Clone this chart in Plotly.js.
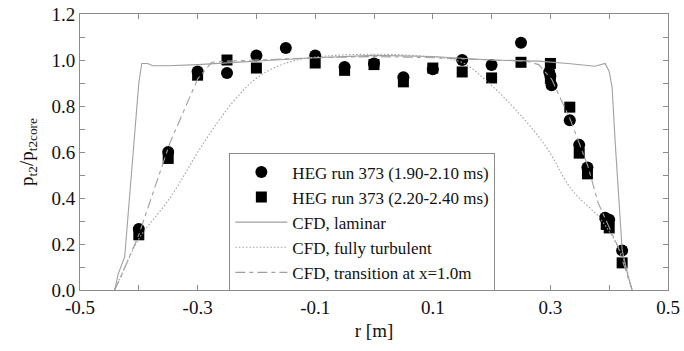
<!DOCTYPE html>
<html>
<head>
<meta charset="utf-8">
<script src="https://cdn.plot.ly/plotly-3.0.1.min.js"></script>
<style>html,body{margin:0;padding:0;background:#fff;}#chart{width:684px;height:351px;}</style>
</head>
<body>
<div id="chart"></div>
<script>
// Experimental data
const run1X = [-0.40, -0.35, -0.30, -0.25, -0.20, -0.15, -0.10, -0.05, 0.0, 0.05, 0.10, 0.15, 0.20, 0.25, 0.298, 0.30, 0.302, 0.333, 0.349, 0.363, 0.393, 0.40, 0.422];
const run1Y = [0.265, 0.60, 0.95, 0.943, 1.02, 1.052, 1.02, 0.97, 0.985, 0.925, 0.96, 1.0, 0.978, 1.075, 0.948, 0.93, 0.89, 0.738, 0.631, 0.533, 0.314, 0.305, 0.172];
const run2X = [-0.40, -0.35, -0.30, -0.25, -0.20, -0.10, -0.05, 0.0, 0.05, 0.10, 0.15, 0.20, 0.25, 0.30, 0.30, 0.333, 0.349, 0.363, 0.395, 0.40, 0.422];
const run2Y = [0.24, 0.572, 0.934, 1.0, 0.965, 0.987, 0.955, 0.98, 0.905, 0.965, 0.948, 0.922, 0.99, 0.985, 0.92, 0.795, 0.595, 0.505, 0.285, 0.27, 0.118];
// CFD curves
const lamX = [-0.441, -0.435, -0.424, -0.41, -0.40, -0.395, -0.385, -0.376, -0.35, -0.3, -0.2, -0.1, 0, 0.1, 0.2, 0.28, 0.33, 0.376, 0.393, 0.40, 0.405, 0.41, 0.422, 0.432, 0.439];
const lamY = [0, 0.07, 0.144, 0.6, 0.90, 0.985, 0.985, 0.975, 0.975, 0.98, 0.995, 1.01, 1.02, 1.015, 1.0, 0.995, 0.985, 0.973, 0.985, 0.95, 0.88, 0.65, 0.175, 0.06, 0];
const turbX = [-0.441, -0.42, -0.398, -0.347, -0.292, -0.24, -0.195, -0.139, -0.081, 0, 0.08, 0.149, 0.195, 0.24, 0.292, 0.336, 0.386, 0.42, 0.439];
const turbY = [0, 0.12, 0.23, 0.40, 0.63, 0.817, 0.93, 0.995, 1.017, 1.025, 1.017, 0.99, 0.90, 0.786, 0.625, 0.437, 0.306, 0.16, 0];
const transX = [-0.441, -0.43, -0.40, -0.347, -0.30, -0.276, -0.25, -0.2, -0.1, 0, 0.1, 0.2, 0.26, 0.28, 0.302, 0.334, 0.364, 0.381, 0.40, 0.415, 0.43, 0.439];
const transY = [0, 0.06, 0.24, 0.64, 0.917, 0.99, 0.995, 1.0, 1.01, 1.015, 1.01, 1.0, 0.995, 0.98, 0.917, 0.74, 0.537, 0.38, 0.27, 0.188, 0.07, 0];
// Axis tick labels (major) and minor tick step
const xTickVals = [-0.5, -0.3, -0.1, 0.1, 0.3, 0.5];
const xTickText = ['-0.5', '-0.3', '-0.1', '0.1', '0.3', '0.5'];
const yTickVals = [0, 0.2, 0.4, 0.6, 0.8, 1.0, 1.2];
const yTickText = ['0.0', '0.2', '0.4', '0.6', '0.8', '1.0', '1.2'];
const minorStep = 0.1;

const serif = '"Liberation Serif", "Times New Roman", Times, serif';
const gray = '#a0a0a0';
const axisGray = '#8c8c8c';

const traces = [
  {x: run1X, y: run1Y, mode: 'markers', type: 'scatter', name: 'HEG run 373 (1.90-2.10 ms)',
   marker: {symbol: 'circle', size: 12, color: '#000'}},
  {x: run2X, y: run2Y, mode: 'markers', type: 'scatter', name: 'HEG run 373 (2.20-2.40 ms)',
   marker: {symbol: 'square', size: 11, color: '#000'}},
  {x: lamX, y: lamY, mode: 'lines', type: 'scatter', name: 'CFD, laminar',
   line: {color: gray, width: 1.1}},
  {x: turbX, y: turbY, mode: 'lines', type: 'scatter', name: 'CFD, fully turbulent',
   line: {color: gray, width: 1.1, dash: '1.5px,2px', shape: 'spline'}},
  {x: transX, y: transY, mode: 'lines', type: 'scatter', name: 'CFD, transition at x=1.0m',
   line: {color: gray, width: 1.1, dash: '10px,4px,4px,4px'}}
];

function axis(vals, text, range, start, titleObj) {
  return {
    range: range, tickmode: 'array', tickvals: vals, ticktext: text,
    showgrid: false, zeroline: false, showline: true, linecolor: axisGray, linewidth: 1,
    mirror: 'allticks', ticks: 'inside', ticklen: 5, tickcolor: axisGray, tickwidth: 1,
    minor: {dtick: minorStep, tick0: start, ticks: 'inside', ticklen: 5, tickcolor: axisGray, tickwidth: 1, showgrid: false},
    tickfont: {family: serif, size: 19, color: '#111'},
    title: titleObj
  };
}

const layout = {
  width: 684, height: 351,
  margin: {l: 80, r: 16, t: 14, b: 61},
  paper_bgcolor: '#fff', plot_bgcolor: '#fff',
  font: {family: serif, color: '#111'},
  xaxis: axis(xTickVals, xTickText, [-0.5, 0.5], -0.5,
    {text: 'r [m]', font: {family: serif, size: 19, color: '#111'}, standoff: 6}),
  yaxis: axis(yTickVals, yTickText, [0, 1.2], 0,
    {text: 'p<sub>t2</sub>/p<sub>t2core</sub>', font: {family: serif, size: 19, color: '#111'}, standoff: 12}),
  showlegend: true,
  legend: {
    x: 0.254, y: 0.495, xanchor: 'left', yanchor: 'top',
    bgcolor: '#fff', bordercolor: axisGray, borderwidth: 1,
    font: {family: serif, size: 17, color: '#111'},
    tracegroupgap: 0, itemwidth: 52
  }
};

Plotly.newPlot('chart', traces, layout, {displayModeBar: false, staticPlot: true});
</script>
</body>
</html>
